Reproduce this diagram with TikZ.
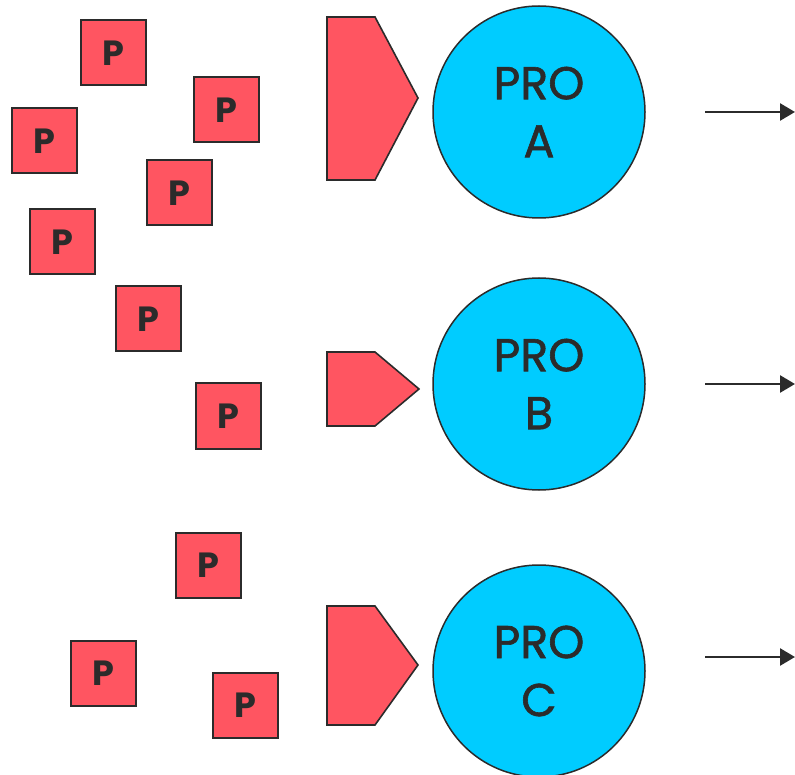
\documentclass[tikz,border=0pt]{standalone}
\usepackage{fontspec}
\setmainfont{Poppins}
\newfontfamily\procfont[FakeBold = 1.3]{Poppins}
\usepackage{tikz}
\usetikzlibrary{positioning, arrows.meta}
\definecolor{pinkred}{RGB}{255, 85, 97}
\definecolor{skyblue}{RGB}{0, 204, 255}
\definecolor{inkgray}{RGB}{43, 43, 43}

\begin{document}
\begin{tikzpicture}[x = 1pt, y = -1pt,
  part/.style = {draw = inkgray, line width = 2pt, fill = pinkred, minimum size = 65pt, inner sep = 0pt,
    text = inkgray, font = \fontsize{35}{35}\selectfont\bfseries},
  wedge/.style = {draw = inkgray, line width = 1.6pt, fill = pinkred, line join = miter},
  proc/.style = {circle, draw = inkgray, line width = 1.5pt, fill = skyblue, minimum size = 212pt, inner sep = 0pt,
    align = center, text = inkgray, font = \procfont\fontsize{46}{58}\selectfont},
  flow/.style = {draw = inkgray, line width = 2.6pt, -{Triangle[length = 15pt, width = 17pt]}}]
  \useasboundingbox (0,0) rectangle (795,775);

  % parts
  \node [part] (p1) at (113,53) {P};
  \node [part] (p2) at (226,110) {P};
  \node [part] (p3) at (44,141) {P};
  \node [part] (p4) at (179,193) {P};
  \node [part] (p5) at (62,242) {P};
  \node [part] (p6) at (148,319) {P};
  \node [part] (p7) at (228,416) {P};
  \node [part] (p8) at (208,565) {P};
  \node [part] (p9) at (103,673) {P};
  \node [part] (p10) at (245,705) {P};

  % feeders
  \draw [wedge] (327,17) -- (375,17) -- (418,98) -- (375,180) -- (327,180) -- cycle;
  \draw [wedge] (327,352) -- (375,352) -- (419,389) -- (375,426) -- (327,426) -- cycle;
  \draw [wedge] (327,606) -- (375,606) -- (418,665) -- (375,725) -- (327,725) -- cycle;

  % processes
  \node [proc] (proA) at (539,112) {PRO\\A};
  \node [proc] (proB) at (539,384) {PRO\\B};
  \node [proc] (proC) at (539,671) {PRO\\C};

  % outputs
  \coordinate (outA) at (705,112);
  \coordinate [right = 90pt of outA] (endA);
  \coordinate (outB) at (705,384);
  \coordinate [right = 90pt of outB] (endB);
  \coordinate (outC) at (705,657);
  \coordinate [right = 90pt of outC] (endC);
  \draw [flow] (outA) to (endA);
  \draw [flow] (outB) to (endB);
  \draw [flow] (outC) to (endC);
\end{tikzpicture}
\end{document}
